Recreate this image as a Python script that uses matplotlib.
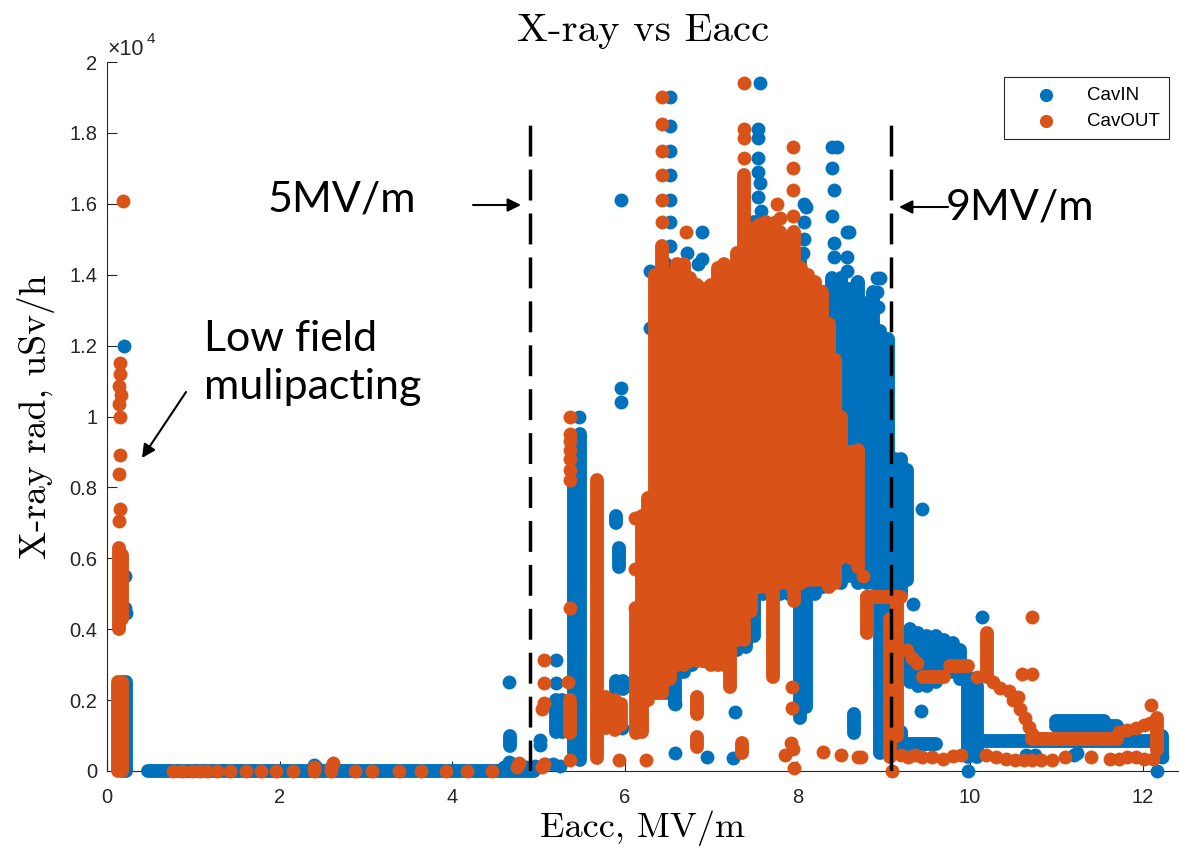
import numpy as np
import matplotlib
matplotlib.use('Agg')
import matplotlib.pyplot as plt

# X-ray vs Eacc
# x: Eacc in MV/m, y: X-ray rad in 1e3 uSv/h

# ---------------- CavIN ----------------
# single points
in_x = [0.2, 0.21, 0.21, 0.22,
        2.4, 2.42, 4.6, 4.66, 4.72, 4.85, 4.96, 5.08, 5.17, 5.25, 4.66, 5.02, 5.02,
        5.2, 5.2, 5.47, 5.97, 5.85,
        5.96, 5.96, 5.96, 6.29, 6.29,
        6.52, 6.52, 6.52, 6.52, 6.52, 6.52, 6.52,
        6.89, 6.72, 6.89, 6.85,
        7.57, 7.54, 7.54, 7.54, 7.54, 7.56, 7.54, 7.58,
        8.07, 8.1, 8.07, 8.08, 8.06,
        8.4, 8.46, 8.4, 8.42, 8.4, 8.42, 8.42,
        8.57, 8.6, 8.57, 8.57, 8.69, 8.92, 8.96, 8.92, 8.93,
        9.34, 9.44, 9.43, 10.14, 9.97, 12.17, 12.22,
        6.58, 7.28, 6.58, 6.95, 7.25, 10.65, 10.75, 11.2, 11.24]
in_y = [12.0, 5.5, 4.6, 4.45,
        0.18, 0.1, 0.12, 0.25, 0.2, 0.1, 0.15, 0.2, 0.2, 0.15, 2.5, 0.87, 0.72,
        3.13, 2.48, 10.0, 1.2, 1.3,
        16.1, 10.8, 10.4, 14.1, 12.5,
        19.0, 18.2, 17.5, 16.8, 16.1, 15.5, 14.8,
        15.2, 14.6, 14.45, 14.3,
        19.4, 18.1, 17.85, 17.3, 16.9, 16.6, 16.2, 15.8,
        16.0, 15.9, 15.5, 15.0, 14.6,
        17.6, 17.6, 17.0, 16.4, 15.65, 14.9, 14.5,
        15.2, 15.2, 14.5, 14.1, 13.8, 13.9, 13.9, 13.5, 13.1,
        4.7, 7.4, 1.7, 4.35, 0.0, 0.0, 0.4,
        1.9, 1.67, 0.5, 0.4, 0.37, 0.45, 0.45, 0.45, 0.5]
# runs of points at one Eacc (x, low, high)
in_run_x = [0.19, 0.22, 4.67, 5.2, 5.27, 5.41, 5.48, 5.93, 5.9, 5.9, 5.98,
            6.38, 6.48, 6.58, 6.68, 6.78, 6.9, 7.0, 7.1, 7.2, 7.3, 7.4, 7.5,
            7.6, 7.7, 7.8, 7.9, 8.03, 8.1, 8.2, 8.3, 8.4, 8.5, 8.6, 8.7, 8.8,
            8.88, 8.96, 9.05, 9.13, 9.2, 9.27, 8.66,
            9.3, 9.4, 9.5, 9.6, 9.7, 9.8, 9.88, 9.98, 10.08, 9.2, 12.22]
in_run_lo = [0.0, 0.0, 0.7, 1.1, 1.1, 0.5, 0.3, 5.75, 7.0, 2.3, 2.3,
             2.2, 2.2, 1.9, 2.8, 3.0, 3.1, 3.3, 3.4, 3.4, 3.4, 3.5, 3.8,
             5.0, 5.0, 5.0, 5.0, 1.5, 1.8, 5.0, 5.2, 5.3, 5.3, 5.5, 5.3, 5.3,
             5.3, 0.5, 0.9, 0.8, 5.0, 5.4, 1.07,
             2.5, 2.4, 2.4, 2.5, 2.7, 2.8, 2.6, 0.4, 0.4, 0.8, 0.4]
in_run_hi = [2.5, 2.5, 1.0, 2.0, 2.0, 8.3, 9.5, 6.3, 7.2, 2.55, 2.55,
             14.0, 14.3, 13.5, 14.0, 13.5, 13.6, 13.5, 14.0, 14.0, 14.0, 14.5, 15.5,
             15.0, 15.0, 15.0, 15.0, 14.5, 14.0, 13.5, 13.5, 13.9, 13.9, 13.6, 13.8, 13.2,
             13.5, 12.4, 12.2, 8.8, 8.8, 8.5, 1.6,
             4.0, 3.9, 3.8, 3.8, 3.7, 3.6, 3.4, 2.65, 2.4, 1.1, 1.0]
# runs along Eacc (y, x from, x to)
in_row_y = [0.0, 0.85, 0.75, 1.42, 1.28]
in_row_x0 = [0.48, 10.05, 9.15, 11.0, 11.0]
in_row_x1 = [4.95, 12.1, 9.6, 11.55, 11.7]

# ---------------- CavOUT ----------------
out_x = [0.18, 0.15, 0.15, 0.14, 0.16, 0.14, 0.15, 0.15, 0.14, 0.15, 0.14,
         0.77, 0.87, 0.99, 1.08, 1.16, 1.27, 1.43, 1.61, 1.78, 1.96, 2.16, 2.4,
         2.6, 2.87, 3.07, 3.38, 3.64, 3.93, 4.17, 4.46,
         2.4, 2.6, 2.62, 4.75, 4.77, 5.04, 5.06,
         5.06, 5.06, 5.06, 5.04,
         5.37, 5.37, 5.37, 5.37, 5.37, 5.37, 5.37, 5.37, 5.34, 5.37,
         5.93, 6.25, 6.12, 6.12, 6.12,
         6.43, 6.43, 6.43, 6.43, 6.43, 6.43, 6.71,
         7.38, 7.38, 7.38, 7.38,
         7.95, 7.95, 7.95, 7.95, 7.95, 7.76, 7.74, 7.8,
         7.94, 7.94, 7.93, 7.95, 7.96, 8.3, 8.5, 8.7, 7.86, 8.76, 9.1,
         9.27, 9.33, 9.38, 10.08, 10.27, 10.35, 10.45, 10.55, 10.6, 10.72,
         10.5, 10.58, 10.63, 10.68, 10.72, 10.72, 12.1,
         11.72, 11.82, 11.92, 12.02, 12.08,
         8.73, 9.2, 9.28, 9.36, 9.44, 9.56, 9.68, 9.8, 9.9, 10.18, 10.3,
         10.42, 10.52, 10.62, 10.72, 10.82, 10.95, 11.1, 11.4, 11.62, 11.72,
         11.82, 11.92, 12.02, 12.12]
out_y = [16.07, 11.5, 11.2, 10.85, 10.6, 10.35, 10.0, 8.9, 8.37, 7.4, 7.05,
         0, 0, 0, 0, 0, 0, 0, 0, 0, 0, 0, 0,
         0, 0, 0, 0, 0, 0, 0, 0,
         0.1, 0.12, 0.22, 0.1, 0.22, 0.1, 0.2,
         3.13, 2.48, 1.92, 1.75,
         10.0, 9.5, 9.3, 9.05, 8.8, 8.5, 8.2, 4.6, 2.5, 0.3,
         0.3, 0.3, 7.15, 5.7, 4.6,
         19.0, 18.25, 17.5, 16.8, 16.1, 15.5, 15.2,
         19.4, 18.1, 17.85, 17.3,
         17.6, 17.0, 16.4, 15.65, 15.2, 16.0, 15.5, 15.6,
         2.37, 1.78, 0.8, 0.62, 0.08, 0.54, 0.45, 0.4, 0.45, 5.5, 0.0,
         3.4, 3.2, 3.05, 2.65, 2.5, 2.35, 2.25, 2.1, 2.75, 2.75,
         2.0, 1.75, 1.5, 1.25, 1.05, 4.35, 1.86,
         1.1, 1.15, 1.2, 1.3, 1.35,
         0.4, 0.45, 0.4, 0.45, 0.4, 0.4, 0.35, 0.42, 0.45, 0.45, 0.4,
         0.35, 0.3, 0.3, 0.3, 0.3, 0.3, 0.4, 0.4, 0.35, 0.35,
         0.4, 0.4, 0.35, 0.35]
out_run_x = [0.13, 0.17, 0.14, 0.17, 5.37, 5.68, 5.78, 5.88, 5.96,
             6.13, 6.2, 6.27, 6.35, 6.43, 6.52, 6.6, 6.68, 6.76, 6.84, 6.84, 6.84,
             6.92, 7.0, 7.08, 7.15, 7.22, 7.3, 7.36, 7.38, 7.46, 7.55, 7.63, 7.72,
             7.8, 7.88, 7.96, 8.04, 8.12, 8.2, 8.28, 8.36, 8.44, 8.5, 8.62, 8.7,
             8.8, 9.07, 9.15, 10.2, 12.17]
out_run_lo = [0.0, 0.0, 4.0, 4.3, 1.07, 0.37, 1.2, 1.15, 1.3,
              1.07, 1.1, 2.0, 2.2, 2.2, 2.6, 3.0, 3.0, 3.1, 3.1, 1.6, 0.68,
              3.1, 3.0, 3.0, 3.0, 2.37, 3.7, 0.5, 3.7, 4.5, 5.2, 5.2, 2.65,
              5.3, 5.3, 4.8, 5.3, 5.4, 5.4, 5.4, 5.2, 5.3, 6.0, 6.0, 5.75,
              3.9, 0.4, 1.0, 2.65, 0.6]
out_run_hi = [2.5, 2.5, 6.3, 6.1, 2.0, 8.2, 2.1, 2.0, 1.9,
              4.6, 7.2, 7.7, 14.0, 14.8, 14.0, 14.3, 14.3, 13.9, 13.7, 2.1, 0.96,
              13.6, 13.7, 14.2, 14.3, 14.2, 14.6, 0.8, 16.8, 15.3, 15.4, 15.5, 15.4,
              15.2, 14.8, 15.2, 14.2, 14.0, 13.8, 13.5, 12.6, 11.6, 10.0, 9.0, 9.05,
              4.9, 4.3, 4.9, 3.9, 1.5]
out_row_y = [4.9, 2.65, 2.95, 0.9]
out_row_x0 = [8.8, 9.45, 9.77, 10.72]
out_row_x1 = [9.2, 9.7, 9.97, 11.7]

# the two field limits marked on the plot, MV/m
field_marks = [4.9, 9.08]

BLUE = '#0072BD'
ORANGE = '#D95319'
W, H = 1179, 851

plt.rcParams['font.family'] = ['Liberation Sans', 'DejaVu Sans']

fig = plt.figure(figsize=(W / 100, H / 100), dpi=100)
ax = fig.add_axes([107 / W, 1 - 771 / H, (W - 107) / W, (771 - 62) / H])


def draw(xs, ys, rx, rlo, rhi, hy, hx0, hx1, color, label):
    # runs of overlapping dots drawn as thick round-capped strokes
    ax.vlines(rx, np.array(rlo) * 1000, np.array(rhi) * 1000, colors=color,
              linewidth=10, capstyle='round', zorder=3, clip_on=False)
    ax.hlines(np.array(hy) * 1000, hx0, hx1, colors=color,
              linewidth=10, capstyle='round', zorder=3, clip_on=False)
    ax.scatter(xs, np.array(ys) * 1000, s=100, c=color, linewidths=0,
               label=label, zorder=3, clip_on=False)


draw(in_x, in_y, in_run_x, in_run_lo, in_run_hi, in_row_y, in_row_x0, in_row_x1, BLUE, 'CavIN')
draw(out_x, out_y, out_run_x, out_run_lo, out_run_hi, out_row_y, out_row_x0, out_row_x1, ORANGE, 'CavOUT')

ax.vlines(field_marks, 0, 18500, colors='k', linewidth=2.5,
          linestyles=(0, (8.9, 3.75)), zorder=5)

ax.set_xlim(0, 12.42)
ax.set_ylim(0, 20000)
ax.set_xticks(range(0, 13, 2))
ax.set_yticks(np.arange(0, 20001, 2000))
ax.set_yticklabels(['0', '0.2', '0.4', '0.6', '0.8', '1', '1.2', '1.4', '1.6', '1.8', '2'])
for s in ['top', 'right']:
    ax.spines[s].set_visible(False)
for s in ['left', 'bottom']:
    ax.spines[s].set_color('#262626')
    ax.spines[s].set_linewidth(0.8)
ax.tick_params(direction='in', length=7, width=0.8, colors='#262626', labelsize=14.5)
ax.tick_params(axis='x', pad=12)
ax.tick_params(axis='y', pad=7)

ax.set_title('X-ray vs Eacc', fontfamily='cmr10', fontsize=29.5, pad=15)
ax.set_xlabel('Eacc, MV/m', fontfamily='cmr10', fontsize=26, labelpad=3)
ax.set_ylabel('X-ray rad, uSv/h', fontfamily='cmr10', fontsize=27, labelpad=10)

fig.text(108 / W, 1 - 55 / H, '\u00d710', fontsize=15.5, color='#262626', va='baseline')
fig.text(147 / W, 1 - 43 / H, '4', fontsize=11, color='#262626', va='baseline')

leg = ax.legend(loc='upper right', bbox_to_anchor=(1169 / W, 1 - 77 / H),
                bbox_transform=fig.transFigure, borderaxespad=0, fontsize=13.5,
                frameon=True, fancybox=False, edgecolor='#262626', framealpha=1,
                handlelength=3.4, handletextpad=0.5, borderpad=0.5,
                labelspacing=0.5, markerscale=0.95)
leg.get_frame().set_linewidth(0.8)

# notes
fig.text(268 / W, 1 - 200 / H, '5MV/m', fontfamily='Lato', fontsize=31, va='center')
fig.text(946 / W, 1 - 207 / H, '9MV/m', fontfamily='Lato', fontsize=31, va='center')
fig.text(204 / W, 1 - 363 / H, 'Low field\nmulipacting', fontfamily='Lato',
         fontsize=31, va='center', linespacing=1.35)
arrow = dict(arrowstyle='-|>', color='k', lw=1.5, mutation_scale=20, shrinkA=0, shrinkB=0)
ax.annotate('', xy=(521 / W, 1 - 205 / H), xytext=(473 / W, 1 - 205 / H),
            xycoords='figure fraction', textcoords='figure fraction', arrowprops=arrow)
ax.annotate('', xy=(899 / W, 1 - 207 / H), xytext=(948 / W, 1 - 207 / H),
            xycoords='figure fraction', textcoords='figure fraction', arrowprops=arrow)
ax.annotate('', xy=(142 / W, 1 - 458 / H), xytext=(186 / W, 1 - 392 / H),
            xycoords='figure fraction', textcoords='figure fraction', arrowprops=arrow)

fig.savefig('out.png', dpi=100)
